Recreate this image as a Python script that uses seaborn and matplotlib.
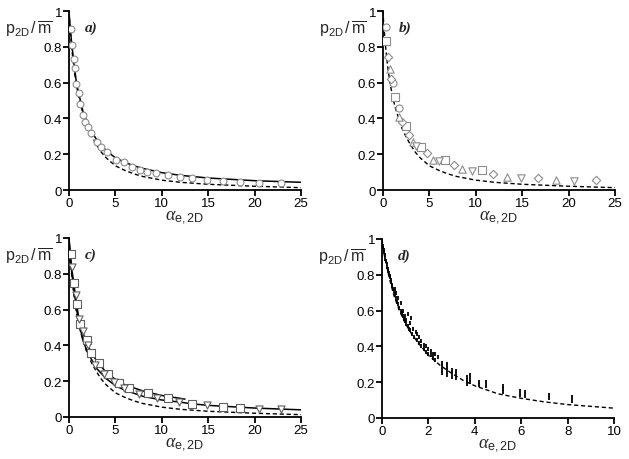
import matplotlib
matplotlib.use("Agg")
import matplotlib.pyplot as plt
import seaborn as sns
import pandas as pd

# reference curves
dash_x = [0, 0.05, 0.1, 0.2, 0.3, 0.5, 0.75, 1, 1.25, 1.5, 2, 2.5, 3, 3.5, 4, 5, 6, 7, 8, 10, 12, 15, 20, 25]
dash_y = [1, 0.95, 0.91, 0.85, 0.79, 0.69, 0.6, 0.53, 0.475, 0.43, 0.35, 0.295, 0.25, 0.21, 0.18, 0.135, 0.11, 0.09, 0.075, 0.055, 0.043, 0.032, 0.021, 0.013]

solid_x = [0, 0.05, 0.1, 0.25, 0.5, 0.75, 1, 1.5, 2, 2.5, 3, 4, 5, 6, 7, 8, 10, 12, 15, 20, 25]
solid_y = [1, 0.96, 0.93, 0.84, 0.72, 0.62, 0.55, 0.44, 0.37, 0.32, 0.28, 0.22, 0.18, 0.155, 0.135, 0.12, 0.097, 0.082, 0.067, 0.052, 0.043]

# panel a: circles
a_x = [0.18, 0.36, 0.54, 0.65, 0.75, 1.04, 1.2, 1.47, 1.72, 2.0, 2.4, 3.0, 3.5, 4.1, 5.1, 5.9, 6.75, 7.65, 8.4, 9.4, 10.7, 12.0, 13.3, 14.9, 16.6, 18.4, 20.5, 22.8]
a_y = [0.9, 0.81, 0.73, 0.68, 0.59, 0.54, 0.48, 0.42, 0.38, 0.35, 0.32, 0.27, 0.24, 0.21, 0.17, 0.155, 0.126, 0.113, 0.102, 0.095, 0.085, 0.074, 0.067, 0.058, 0.052, 0.046, 0.041, 0.037]

# panel b: several marker series
b_circ_x = [0.3, 1.1, 1.7]
b_circ_y = [0.91, 0.6, 0.46]
b_sq_x = [0.36, 1.25, 2.45, 4.1, 6.7, 10.7]
b_sq_y = [0.83, 0.52, 0.355, 0.24, 0.165, 0.112]
b_dia_x = [0.5, 0.9, 2.05, 2.8, 4.7, 7.6, 11.9, 16.7, 22.9]
b_dia_y = [0.745, 0.62, 0.38, 0.31, 0.205, 0.14, 0.09, 0.066, 0.055]
b_up_x = [0.72, 1.75, 3.2, 5.35, 8.5, 13.4, 18.6]
b_up_y = [0.675, 0.41, 0.27, 0.17, 0.117, 0.07, 0.054]
b_dn_x = [3.6, 6.0, 9.6, 14.9, 20.6]
b_dn_y = [0.245, 0.16, 0.105, 0.065, 0.05]

# panel c
c_up_x = [0, 0.1, 0.25, 0.5, 1, 1.5, 2, 3, 4, 5, 6, 8, 10, 12.5]
c_up_y = [1, 0.93, 0.85, 0.75, 0.57, 0.47, 0.4, 0.31, 0.25, 0.21, 0.18, 0.145, 0.12, 0.1]
c_mid_x = [0, 0.1, 0.25, 0.5, 1, 1.5, 2, 3, 4, 5, 6, 8, 10, 12, 13, 15, 20, 25]
c_mid_y = [1, 0.92, 0.83, 0.72, 0.54, 0.43, 0.36, 0.27, 0.215, 0.175, 0.15, 0.115, 0.095, 0.083, 0.075, 0.065, 0.05, 0.04]
c_sq_x = [0.18, 0.54, 0.82, 1.18, 1.9, 2.4, 3.2, 4.2, 5.4, 6.45, 8.5, 10.7, 13.3, 16.6, 18.4]
c_sq_y = [0.91, 0.75, 0.63, 0.52, 0.43, 0.36, 0.3, 0.24, 0.19, 0.16, 0.136, 0.108, 0.074, 0.058, 0.052]
c_dn_x = [0.36, 0.72, 1.04, 1.54, 2.04, 2.8, 3.8, 4.8, 5.9, 7.5, 9.5, 11.9, 14.9, 20.5, 22.8]
c_dn_y = [0.84, 0.68, 0.55, 0.48, 0.4, 0.29, 0.24, 0.195, 0.16, 0.127, 0.106, 0.084, 0.068, 0.047, 0.045]

# panel d: dense simulation points
d_x = [0.02, 0.05, 0.08, 0.1, 0.12, 0.15, 0.18, 0.2, 0.23, 0.25, 0.28, 0.3, 0.33, 0.35, 0.38, 0.4, 0.43, 0.45, 0.48, 0.5,
       0.55, 0.6, 0.65, 0.7, 0.75, 0.8, 0.85, 0.9, 0.95, 1.0,
       1.05, 1.1, 1.15, 1.2, 1.3, 1.4, 1.5, 1.6, 1.7, 1.8, 1.9, 2.0, 2.1, 2.2, 2.3,
       0.55, 0.6, 0.7, 0.8, 0.9, 1.0, 1.05, 1.1, 1.2, 1.25, 1.35, 1.45, 1.5, 1.6, 1.7, 1.8, 1.9, 2.0, 2.1, 2.2, 2.3, 2.4,
       2.6, 2.6, 2.6, 2.6, 2.8, 2.8, 2.8, 2.8, 3.0, 3.0, 3.0, 3.2, 3.2, 3.2, 3.65, 3.65, 3.65, 3.8, 3.8, 3.8,
       4.2, 4.2, 4.5, 4.5, 5.2, 5.2, 5.2, 5.95, 5.95, 6.15, 6.15, 7.2, 7.2, 8.2, 8.2]
d_y = [0.985, 0.96, 0.94, 0.925, 0.91, 0.89, 0.875, 0.86, 0.845, 0.835, 0.82, 0.81, 0.795, 0.785, 0.77, 0.76, 0.745, 0.735, 0.72, 0.71,
       0.69, 0.67, 0.65, 0.635, 0.615, 0.6, 0.585, 0.57, 0.555, 0.54,
       0.525, 0.515, 0.5, 0.49, 0.47, 0.45, 0.435, 0.42, 0.4, 0.385, 0.37, 0.36, 0.35, 0.335, 0.325,
       0.72, 0.7, 0.67, 0.64, 0.6, 0.57, 0.55, 0.58, 0.53, 0.56, 0.5, 0.48, 0.47, 0.45, 0.43, 0.41, 0.4, 0.385, 0.375, 0.36, 0.355, 0.34,
       0.31, 0.29, 0.27, 0.25, 0.3, 0.28, 0.26, 0.24, 0.27, 0.25, 0.23, 0.265, 0.245, 0.225, 0.23, 0.21, 0.19, 0.24, 0.22, 0.2,
       0.2, 0.185, 0.2, 0.18, 0.18, 0.16, 0.145, 0.15, 0.13, 0.145, 0.125, 0.13, 0.11, 0.12, 0.095]

x_ticks_25 = [0, 5, 10, 15, 20, 25]
x_ticks_10 = [0, 2, 4, 6, 8, 10]
y_ticks = [0, 0.2, 0.4, 0.6, 0.8, 1]
y_tick_labels = ["0", "0.2", "0.4", "0.6", "0.8", "1"]
panel_labels = ["a)", "b)", "c)", "d)"]

sns.set_style("ticks")
plt.rcParams["font.family"] = ["Liberation Sans", "DejaVu Sans"]
plt.rcParams["mathtext.fontset"] = "custom"
plt.rcParams["mathtext.rm"] = "Liberation Sans"
plt.rcParams["mathtext.sf"] = "Liberation Sans"
plt.rcParams["mathtext.it"] = "Liberation Serif:italic"
plt.rcParams["mathtext.bf"] = "Liberation Sans:bold"

fig = plt.figure(figsize=(6.29, 4.6), dpi=100)
w = 232 / 629
h = 179 / 460
ax_a = fig.add_axes([69 / 629, 269 / 460, w, h])
ax_b = fig.add_axes([383 / 629, 269 / 460, w, h])
ax_c = fig.add_axes([69 / 629, 42 / 460, w, h])
ax_d = fig.add_axes([382 / 629, 41 / 460, w, h])

grey = "#8c8c8c"
open_kw = dict(facecolor="white", edgecolor=grey, linewidth=0.8, zorder=3)


def curve(ax, x, y, style="-", lw=1.0, color="black"):
    sns.lineplot(x=x, y=y, ax=ax, color=color, linestyle=style, linewidth=lw,
                 estimator=None, sort=False)


# a
curve(ax_a, dash_x, dash_y, style=(0, (3, 2)))
sns.scatterplot(x=a_x, y=a_y, ax=ax_a, marker="o", s=24, **open_kw)
curve(ax_a, solid_x, solid_y, lw=1.1)

# b
curve(ax_b, dash_x, dash_y, style=(0, (3, 2)))
for xs, ys, m, s in [(b_circ_x, b_circ_y, "o", 26), (b_sq_x, b_sq_y, "s", 28),
                     (b_dia_x, b_dia_y, "D", 18), (b_up_x, b_up_y, "^", 28),
                     (b_dn_x, b_dn_y, "v", 28)]:
    sns.scatterplot(x=xs, y=ys, ax=ax_b, marker=m, s=s, **open_kw)

# c
curve(ax_c, dash_x, dash_y, style=(0, (3, 2)))
curve(ax_c, c_up_x, c_up_y, lw=1.1)
curve(ax_c, c_mid_x, c_mid_y, lw=1.1)
sns.scatterplot(x=c_sq_x, y=c_sq_y, ax=ax_c, marker="s", s=26, facecolor="white",
                edgecolor="#606060", linewidth=0.8, zorder=3)
sns.scatterplot(x=c_dn_x, y=c_dn_y, ax=ax_c, marker="v", s=26, facecolor="white",
                edgecolor="#606060", linewidth=0.8, zorder=3)

# d
d_dash = pd.DataFrame({"x": dash_x, "y": dash_y})
d_dash = d_dash[d_dash["x"] <= 10]
curve(ax_d, d_dash["x"], d_dash["y"], style=(0, (3, 2)))
sns.scatterplot(x=d_x, y=d_y, ax=ax_d, marker="|", s=10, color="black", linewidth=1.3, zorder=3)

for ax, lab in zip([ax_a, ax_b, ax_c, ax_d], panel_labels):
    ax.set_ylim(0, 1)
    if ax is ax_d:
        ax.set_xlim(0, 10)
        ax.set_xticks(x_ticks_10)
        ax.set_xticklabels([str(t) for t in x_ticks_10])
    else:
        ax.set_xlim(0, 25)
        ax.set_xticks(x_ticks_25)
        ax.set_xticklabels([str(t) for t in x_ticks_25])
    ax.set_yticks(y_ticks)
    ax.set_yticklabels(y_tick_labels)
    sns.despine(ax=ax)
    for sp in ["left", "bottom"]:
        ax.spines[sp].set_linewidth(1.3)
        ax.spines[sp].set_color("black")
    ax.tick_params(direction="out", length=4, width=1.3, labelsize=9.5, pad=1, colors="black")
    ax.set_ylabel(r"$\mathrm{p}_{\mathrm{2D}}\,/\,\overline{\mathrm{m}}$", rotation=0, fontsize=11.5)
    ax.yaxis.set_label_coords(-0.175, 0.85)
    ax.set_xlabel(r"$\alpha_{\mathrm{e,2D}}$", fontsize=13, labelpad=0)
    ax.xaxis.set_label_coords(0.5, -0.1)
    ax.text(0.07, 0.91, lab, transform=ax.transAxes, fontsize=11, ha="left", va="center",
            family="Liberation Serif", fontweight="bold", fontstyle="italic")

plt.savefig("out.png", dpi=100)
